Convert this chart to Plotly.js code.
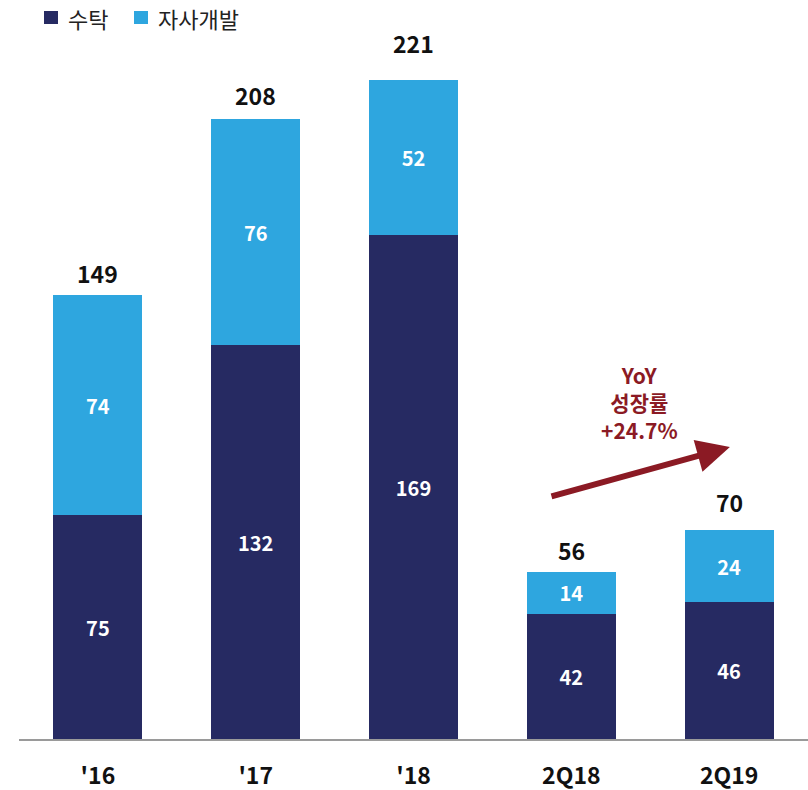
<!DOCTYPE html>
<html><head><meta charset="utf-8">
<script src="https://cdn.plot.ly/plotly-3.0.1.min.js"></script>
<style>html,body{margin:0;padding:0;background:#fff}</style>
</head><body><div id="chart" style="width:808px;height:790px"></div>
<script>
const categories = ["'16", "'17", "'18", "2Q18", "2Q19"];
const consigned = [75, 132, 169, 42, 46];      // 수탁
const ownDev = [74, 76, 52, 14, 24];           // 자사개발
const totals = [149, 208, 221, 56, 70];
const seriesNames = ["수탁", "자사개발"];
const yoyText = "YoY<br>성장률<br>+24.7%";

const FONT = "'Noto Sans CJK KR', 'Noto Sans', sans-serif";
const COLORS = ['#262A62', '#2EA6DF'];
const idx = categories.map((_, i) => i);

const traces = [
  {type:'bar', name:seriesNames[0], x:idx, y:consigned, marker:{color:COLORS[0]},
   text:consigned.map(String), textposition:'inside', insidetextanchor:'middle', textangle:0,
   textfont:{color:'#ffffff', size:20, family:FONT, weight:'bold'}, hoverinfo:'none'},
  {type:'bar', name:seriesNames[1], x:idx, y:ownDev, marker:{color:COLORS[1]},
   text:ownDev.map(String), textposition:'inside', insidetextanchor:'middle', textangle:0,
   textfont:{color:'#ffffff', size:20, family:FONT, weight:'bold'}, hoverinfo:'none'}
];

// extra pixel lift of each total label (as placed in the original slide)
const labelLift = [0, 2, 15, 0, 6];
const annotations = totals.map((t, i) => ({
  x:i, y:t, xref:'x', yref:'y', text:String(t), showarrow:false, yanchor:'bottom',
  yshift:3 + labelLift[i],
  font:{size:23, color:'#111111', family:FONT, weight:'bold'}
}));
annotations.push({
  x:4.005, y:97.9, xref:'x', yref:'y', ax:2.865, ay:81.2, axref:'x', ayref:'y',
  text:'', showarrow:true, arrowhead:2, arrowsize:1.1, arrowwidth:6, arrowcolor:'#8B1A24'
});
annotations.push({
  x:3.435, y:112.8, xref:'x', yref:'y', text:yoyText, showarrow:false,
  font:{size:21, color:'#8B1A24', family:FONT, weight:'bold'}
});

// manual legend (pixel positions converted to paper fractions)
const W = 808, H = 790;
const legendItems = [{sq:44, tx:66}, {sq:134, tx:156}];
const shapes = [];
legendItems.forEach((it, k) => {
  shapes.push({type:'rect', xref:'paper', yref:'paper',
    x0:(it.sq - 19) / 789, x1:(it.sq + 14 - 19) / 789,
    y0:(739 - 24) / 699, y1:(739 - 11) / 699,
    fillcolor:COLORS[k], line:{width:0}});
  annotations.push({xref:'paper', yref:'paper', x:(it.tx - 19) / 789, y:(739 - 18) / 699,
    xanchor:'left', yanchor:'middle', text:seriesNames[k], showarrow:false,
    font:{size:22, color:'#222222', family:FONT}});
});

const layout = {
  width:W, height:H,
  margin:{l:19, r:0, t:40, b:51, autoexpand:false},
  barmode:'stack', bargap:0.435,
  paper_bgcolor:'#ffffff', plot_bgcolor:'#ffffff',
  font:{family:FONT},
  showlegend:false,
  xaxis:{tickmode:'array', tickvals:idx, ticktext:categories, range:[-0.5, 4.5],
    showline:true, linecolor:'#9a9a9a', linewidth:2, showgrid:false, zeroline:false,
    ticks:'', ticklabelstandoff:15,
    tickfont:{size:23, color:'#111111', family:FONT, weight:'bold'}},
  yaxis:{range:[0, 234.4], visible:false, showgrid:false, zeroline:false},
  shapes:shapes,
  annotations:annotations
};
Plotly.newPlot('chart', traces, layout, {displayModeBar:false, staticPlot:true});
</script></body></html>
